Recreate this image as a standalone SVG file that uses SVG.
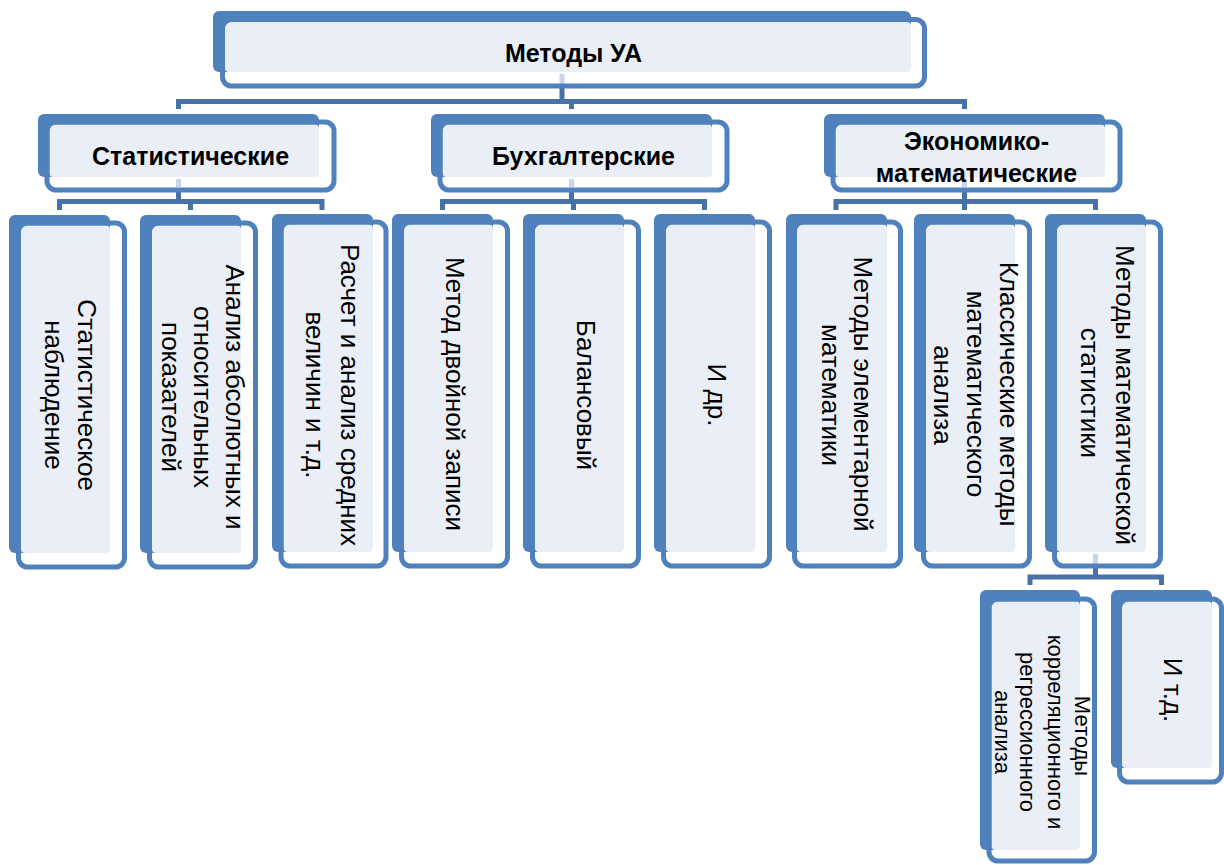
<svg xmlns="http://www.w3.org/2000/svg" width="1224" height="865" viewBox="0 0 1224 865">
<style>
.bk{fill:#4F81BD}
.lt{fill:#EAEFF7}
.ol{fill:none;stroke:#4F81BD;stroke-width:5}
.cn{fill:none;stroke:#4672A8;stroke-width:5;stroke-linejoin:miter;stroke-linecap:butt}
.fn{fill:none;stroke:#C8D5EA;stroke-width:5}
.h{font-family:"Liberation Sans",Arial,sans-serif;font-weight:bold;font-size:25px;fill:#000;text-anchor:middle}
.v{font-family:"Liberation Sans",Arial,sans-serif;font-size:26px;fill:#000;text-anchor:middle}
.s{font-family:"Liberation Sans",Arial,sans-serif;font-size:22px;fill:#000;text-anchor:middle}
</style>
<rect width="1224" height="865" fill="#fff"/>
<g id="connectors">
  <path class="fn" d="M562 74V84 M178.5 179V187 M571.5 179V187 M964.5 179V187 M1095.5 554V565"/>
  <path class="cn" d="M562 86V101.5 M178.5 109V101.5H964.5V109 M571.5 101.5V109"/>
  <path class="cn" d="M178.5 190V201.5 M59.5 210V201.5H322V210 M190.5 201.5V210"/>
  <path class="cn" d="M571.5 190V201.5 M442.5 210V201.5H704.5V210 M573.5 201.5V210"/>
  <path class="cn" d="M964.5 190V201.5 M836 210V201.5H1095.5V210 M964.5 201.5V210"/>
  <path class="cn" d="M1095.5 567V577 M1030 585V577H1161.5V585"/>
</g>
<g id="root">
  <rect class="bk" x="213" y="11" width="698" height="61" rx="6"/>
  <rect class="lt" x="225" y="22" width="686" height="50" rx="4"/>
  <rect class="ol" x="222.5" y="19.5" width="702" height="66.5" rx="9"/>
  <text class="h" x="573.5" y="62">Методы УА</text>
</g>
<g id="stat">
  <rect class="bk" x="38" y="114" width="281" height="63" rx="6"/>
  <rect class="lt" x="49.5" y="124.5" width="269.5" height="52.5" rx="4"/>
  <rect class="ol" x="47" y="122" width="287" height="68" rx="9"/>
  <text class="h" x="190.5" y="165">Статистические</text>
</g>
<g id="buh">
  <rect class="bk" x="431" y="114" width="281" height="63" rx="6"/>
  <rect class="lt" x="442.5" y="124.5" width="269.5" height="52.5" rx="4"/>
  <rect class="ol" x="440" y="122" width="287" height="68" rx="9"/>
  <text class="h" x="583.5" y="165">Бухгалтерские</text>
</g>
<g id="econ">
  <rect class="bk" x="824" y="114" width="281" height="63" rx="6"/>
  <rect class="lt" x="835.5" y="124.5" width="269.5" height="52.5" rx="4"/>
  <rect class="ol" x="833" y="122" width="287" height="68" rx="9"/>
  <text class="h" x="976.5" y="150">Экономико-</text>
  <text class="h" x="976.5" y="182">математические</text>
</g>
<g id="v1">
  <rect class="bk" x="9" y="215" width="101" height="338" rx="6"/>
  <rect class="lt" x="21" y="225.5" width="89" height="327.5" rx="4"/>
  <rect class="ol" x="18.5" y="223" width="106" height="344" rx="9"/>
  <text class="v" transform="rotate(90)"><tspan x="395" y="-78">Статистическое</tspan><tspan x="395" y="-45">наблюдение</tspan></text>
</g>
<g id="v2">
  <rect class="bk" x="140" y="215" width="101" height="338" rx="6"/>
  <rect class="lt" x="152" y="225.5" width="89" height="327.5" rx="4"/>
  <rect class="ol" x="149.5" y="223" width="106" height="344" rx="9"/>
  <text class="v" transform="rotate(90)"><tspan x="397" y="-226">Анализ абсолютных и</tspan><tspan x="397" y="-194">относительных</tspan><tspan x="397" y="-162">показателей</tspan></text>
</g>
<g id="v3">
  <rect class="bk" x="272" y="214" width="101" height="338" rx="6"/>
  <rect class="lt" x="283.5" y="224.5" width="89.5" height="327.5" rx="4"/>
  <rect class="ol" x="281" y="222" width="105" height="344" rx="9"/>
  <text class="v" transform="rotate(90)"><tspan x="395" y="-341">Расчет и анализ средних</tspan><tspan x="395" y="-306">величин и т.д.</tspan></text>
</g>
<g id="v4">
  <rect class="bk" x="392" y="214" width="101" height="338" rx="6"/>
  <rect class="lt" x="404" y="224.5" width="89" height="327.5" rx="4"/>
  <rect class="ol" x="401.5" y="222" width="106" height="344" rx="9"/>
  <text class="v" transform="rotate(90)"><tspan x="394" y="-446">Метод двойной записи</tspan></text>
</g>
<g id="v5">
  <rect class="bk" x="523" y="214" width="101" height="338" rx="6"/>
  <rect class="lt" x="535" y="224.5" width="89" height="327.5" rx="4"/>
  <rect class="ol" x="532.5" y="222" width="106" height="344" rx="9"/>
  <text class="v" transform="rotate(90)"><tspan x="395" y="-577">Балансовый</tspan></text>
</g>
<g id="v6">
  <rect class="bk" x="654" y="214" width="101" height="338" rx="6"/>
  <rect class="lt" x="666" y="224.5" width="89" height="327.5" rx="4"/>
  <rect class="ol" x="663.5" y="222" width="106" height="344" rx="9"/>
  <text class="v" transform="rotate(90)"><tspan x="395" y="-708">И др.</tspan></text>
</g>
<g id="v7">
  <rect class="bk" x="786" y="214" width="101" height="338" rx="6"/>
  <rect class="lt" x="797" y="224.5" width="90" height="327.5" rx="4"/>
  <rect class="ol" x="794.5" y="222" width="106" height="344" rx="9"/>
  <text class="v" transform="rotate(90)"><tspan x="394" y="-854">Методы элементарной</tspan><tspan x="395" y="-822">математики</tspan></text>
</g>
<g id="v8">
  <rect class="bk" x="914" y="214" width="101" height="338" rx="6"/>
  <rect class="lt" x="926" y="224.5" width="89" height="327.5" rx="4"/>
  <rect class="ol" x="923.5" y="222" width="106" height="344" rx="9"/>
  <text class="v" transform="rotate(90)"><tspan x="394" y="-1000">Классические методы</tspan><tspan x="394" y="-967">математического</tspan><tspan x="395" y="-934">анализа</tspan></text>
</g>
<g id="v9">
  <rect class="bk" x="1045" y="214" width="101" height="338" rx="6"/>
  <rect class="lt" x="1057" y="224.5" width="89" height="327.5" rx="4"/>
  <rect class="ol" x="1054.5" y="222" width="106" height="344" rx="9"/>
  <text class="v" transform="rotate(90)"><tspan x="395" y="-1116">Методы математической</tspan><tspan x="393" y="-1081">статистики</tspan></text>
</g>
<g id="v10">
  <rect class="bk" x="980" y="590" width="100" height="260" rx="6"/>
  <rect class="lt" x="991.5" y="601.5" width="88.5" height="248.5" rx="4"/>
  <rect class="ol" x="989" y="599" width="105.5" height="262" rx="9"/>
  <text class="s" transform="rotate(90)"><tspan x="736" y="-1075">Методы</tspan><tspan x="732" y="-1048">корреляционного и</tspan><tspan x="732" y="-1020">регрессионного</tspan><tspan x="732" y="-995">анализа</tspan></text>
</g>
<g id="v11">
  <rect class="bk" x="1111" y="590" width="101" height="178" rx="6"/>
  <rect class="lt" x="1122" y="601.5" width="90" height="166.5" rx="4"/>
  <rect class="ol" x="1119.5" y="599" width="102" height="183" rx="9"/>
  <text class="v" transform="rotate(90)"><tspan x="690" y="-1164">И т.д.</tspan></text>
</g>
</svg>
